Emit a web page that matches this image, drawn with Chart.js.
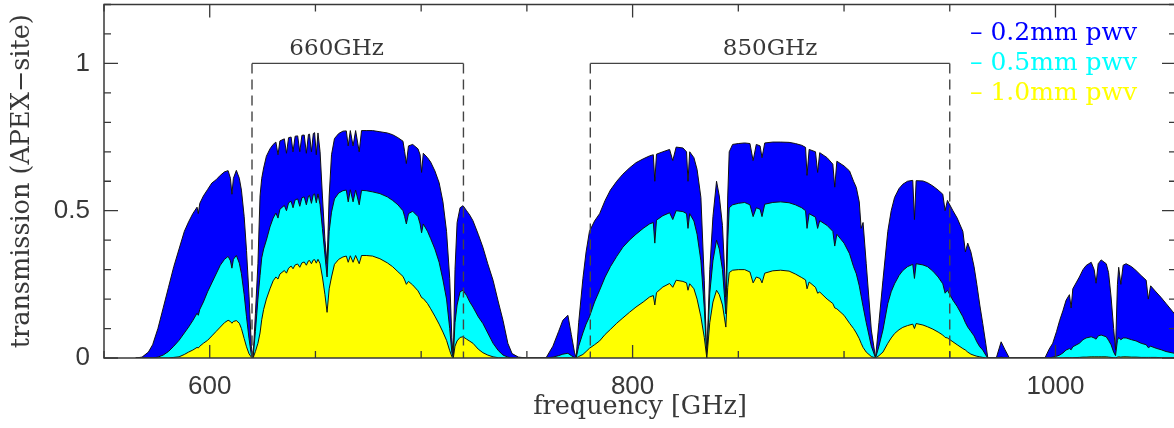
<!DOCTYPE html>
<html>
<head>
<meta charset="utf-8">
<title>APEX atmospheric transmission</title>
<script src="https://cdn.jsdelivr.net/npm/chart.js@4/dist/chart.umd.min.js"></script>
<style>
    html, body { margin: 0; padding: 0; background: #fff; overflow: hidden; }
    canvas { display: block; }
</style>
</head>
<body>
<canvas id="chartTransmission" width="1180" height="428"></canvas>
<script>
// frequency grid [GHz], one row per window chunk
const freqGHz = [
    565, 568, 571, 573, 575.5, 578, 580.5, 583, 585.5, 588, 590, 592, 594,
    594.6, 595.3, 597, 599, 601, 603, 605, 607, 608.7, 609.8, 610.5, 611.2, 612.6,
    614, 615, 616.3, 617.4, 618.6, 619.7, 620.5, 621.6, 622.8, 623.8, 624.6, 625.5, 626.8, 628.5, 630,
    631.3, 632.3, 633.2, 635.3, 636.3, 637.3, 638.5, 639.4, 640.4, 641.6, 642.6, 643.6, 644.7, 645.7, 646.7, 647.2, 648.1, 649, 649.6, 650.4, 651.2,
    652.2, 653.3, 654.5, 655.5, 656.5, 657.6, 659, 661, 663, 664.6, 665.5, 666.5, 667.8, 669, 670.7, 671.8, 674,
    677, 680.5, 684, 686.5, 689, 691.4, 692.2, 693, 694, 696, 698.5, 699.5, 700.2, 701, 703, 704.5, 706.5, 708.5, 710.3, 712, 713.5, 714.5, 715.2,
    716, 717, 718.4, 719.8, 721.5, 723, 724.5, 727, 729.2, 731.5, 734, 736.5, 738.7, 741, 743, 746, 750, 759,
    762.3, 765, 767, 769.4, 771, 772.5, 773.3, 774.5, 776.5, 778, 779.6, 782, 784.4, 787, 789.5, 792.5, 795.4, 798.5, 801.6, 805, 808,
    809.8, 810.5, 811.3, 814.3, 817.5, 819, 820.6, 823.8, 825.5, 826.2, 827, 829, 830.5, 832.3, 833.9, 835.1,
    836.5, 838, 839.7, 841, 842.5, 844.1, 845, 845.7, 847.3, 850, 853, 855.5, 857, 858.5, 860.3, 861.2, 862.5, 866.3,
    870, 874, 877, 880, 881.8, 882.5, 883.5, 886.5, 887.5, 888.5, 892, 894.7, 895.6, 896.6, 900, 902.6, 904.5, 905.8, 907.2, 908.1, 909, 910.5, 912.9, 914.9,
    916.5, 918.4, 920.7, 922.3, 923.9, 926, 927.8, 930, 932.5, 933.3, 934.1, 937.3, 939.5, 942, 944.5, 946.7, 947.8,
    948.9, 951.5, 953.5, 956.2, 957.4, 958.5, 960, 961.5, 962.8, 964.2, 965.6, 967, 968, 972, 974.3, 976, 978.2,
    995, 997, 998.7, 1000.5, 1002, 1003.5, 1005, 1006.6, 1007.4, 1008.2, 1011.3, 1013, 1014.5, 1016.9, 1018.3, 1019.2, 1020.2, 1021.6,
    1024, 1025.1, 1026.3, 1027.5, 1028.4, 1029.3, 1029.9, 1030.9, 1032, 1033.4, 1036, 1038.1, 1040.5, 1042.9, 1043.9, 1045, 1047.6, 1050, 1052.3, 1055.5, 1058,
];

// transmission at 0.2 mm pwv
const trans02 = [
    0, 0.003, 0.02, 0.045, 0.10, 0.17, 0.24, 0.31, 0.37, 0.43, 0.462, 0.49, 0.512,
    0.49, 0.525, 0.55, 0.572, 0.594, 0.605, 0.62, 0.632, 0.636, 0.61, 0.556, 0.61, 0.637,
    0.61, 0.57, 0.48, 0.365, 0.21, 0.04, 0, 0.15, 0.32, 0.55, 0.61, 0.645, 0.685, 0.71, 0.725,
    0.733, 0.69, 0.737, 0.744, 0.695, 0.748, 0.75, 0.70, 0.753, 0.754, 0.70, 0.756, 0.757, 0.695, 0.759, 0.76, 0.70, 0.762, 0.765, 0.69, 0.764,
    0.70, 0.55, 0.40, 0.32, 0.55, 0.69, 0.745, 0.762, 0.77, 0.771, 0.72, 0.772, 0.72, 0.772, 0.70, 0.772, 0.772,
    0.772, 0.768, 0.764, 0.758, 0.748, 0.736, 0.70, 0.66, 0.72, 0.725, 0.71, 0.69, 0.63, 0.695, 0.68, 0.665, 0.635, 0.595, 0.53, 0.43, 0.27, 0.07, 0,
    0.3, 0.46, 0.51, 0.517, 0.50, 0.485, 0.466, 0.42, 0.376, 0.32, 0.264, 0.19, 0.128, 0.05, 0.015, 0.003, 0, 0,
    0.04, 0.09, 0.128, 0.145, 0.08, 0.02, 0, 0.12, 0.27, 0.36, 0.43, 0.465, 0.49, 0.535, 0.57, 0.60, 0.624, 0.645, 0.663, 0.676, 0.686,
    0.69, 0.60, 0.692, 0.70, 0.708, 0.67, 0.716, 0.713, 0.70, 0.60, 0.70, 0.68, 0.64, 0.545, 0.264, 0,
    0.30, 0.48, 0.60, 0.55, 0.45, 0.207, 0.55, 0.70, 0.725, 0.728, 0.73, 0.728, 0.67, 0.725, 0.72, 0.68, 0.73, 0.733,
    0.733, 0.732, 0.728, 0.722, 0.715, 0.62, 0.708, 0.70, 0.63, 0.697, 0.68, 0.658, 0.58, 0.668, 0.652, 0.635, 0.60, 0.579, 0.53, 0.44, 0.46, 0.32, 0.095, 0,
    0.12, 0.264, 0.43, 0.50, 0.545, 0.575, 0.59, 0.60, 0.603, 0.47, 0.602, 0.601, 0.595, 0.584, 0.57, 0.556, 0.50,
    0.535, 0.50, 0.475, 0.43, 0.36, 0.39, 0.36, 0.31, 0.25, 0.18, 0.117, 0.05, 0, 0, 0.055, 0.03, 0,
    0, 0.03, 0.05, 0.09, 0.128, 0.16, 0.196, 0.215, 0.17, 0.235, 0.275, 0.30, 0.314, 0.325, 0.30, 0.254, 0.32, 0.333,
    0.32, 0.29, 0.207, 0.10, 0.027, 0.25, 0.308, 0.25, 0.315, 0.32, 0.31, 0.297, 0.28, 0.264, 0.20, 0.245, 0.224, 0.205, 0.185, 0.157, 0.135,
];

// transmission at 0.5 mm pwv
const trans05 = [
    0, 0, 0, 0, 0.003, 0.01, 0.022, 0.04, 0.06, 0.085, 0.105, 0.127, 0.152,
    0.145, 0.165, 0.19, 0.225, 0.255, 0.285, 0.315, 0.335, 0.345, 0.33, 0.305, 0.335, 0.348,
    0.322, 0.286, 0.215, 0.14, 0.065, 0.01, 0, 0.09, 0.2, 0.28, 0.34, 0.37, 0.40, 0.445, 0.475,
    0.492, 0.475, 0.505, 0.518, 0.50, 0.527, 0.532, 0.51, 0.537, 0.54, 0.515, 0.544, 0.547, 0.52, 0.55, 0.552, 0.525, 0.555, 0.557, 0.527, 0.557,
    0.52, 0.44, 0.35, 0.275, 0.43, 0.495, 0.54, 0.56, 0.568, 0.57, 0.53, 0.571, 0.53, 0.57, 0.52, 0.569, 0.568,
    0.564, 0.558, 0.547, 0.535, 0.52, 0.50, 0.48, 0.455, 0.49, 0.498, 0.48, 0.455, 0.425, 0.455, 0.43, 0.405, 0.37, 0.325, 0.265, 0.20, 0.10, 0.02, 0,
    0.12, 0.18, 0.225, 0.23, 0.212, 0.19, 0.173, 0.14, 0.117, 0.085, 0.05, 0.025, 0.01, 0.003, 0, 0, 0, 0,
    0.003, 0.008, 0.013, 0.016, 0.008, 0.002, 0, 0.04, 0.085, 0.115, 0.14, 0.19, 0.23, 0.275, 0.31, 0.345, 0.376, 0.40, 0.42, 0.44, 0.455,
    0.46, 0.39, 0.468, 0.483, 0.493, 0.47, 0.50, 0.497, 0.49, 0.44, 0.49, 0.465, 0.42, 0.33, 0.17, 0,
    0.22, 0.33, 0.40, 0.37, 0.30, 0.15, 0.40, 0.51, 0.52, 0.525, 0.528, 0.52, 0.48, 0.51, 0.505, 0.48, 0.522, 0.528,
    0.53, 0.527, 0.52, 0.51, 0.50, 0.44, 0.49, 0.478, 0.44, 0.466, 0.45, 0.43, 0.38, 0.42, 0.39, 0.354, 0.31, 0.286, 0.245, 0.21, 0.175, 0.12, 0.04, 0,
    0.04, 0.095, 0.185, 0.225, 0.252, 0.28, 0.297, 0.31, 0.318, 0.27, 0.32, 0.316, 0.31, 0.295, 0.275, 0.252, 0.22,
    0.23, 0.196, 0.175, 0.14, 0.12, 0.105, 0.09, 0.075, 0.055, 0.038, 0.027, 0.01, 0, 0, 0.003, 0.001, 0,
    0, 0, 0.003, 0.006, 0.01, 0.017, 0.027, 0.032, 0.028, 0.038, 0.05, 0.062, 0.068, 0.072, 0.068, 0.064, 0.075, 0.078,
    0.072, 0.06, 0.045, 0.02, 0.008, 0.06, 0.07, 0.062, 0.068, 0.068, 0.062, 0.058, 0.05, 0.045, 0.035, 0.04, 0.033, 0.028, 0.022, 0.017, 0.014,
];

// transmission at 1.0 mm pwv
const trans10 = [
    0, 0, 0, 0, 0, 0, 0, 0.002, 0.004, 0.012, 0.02, 0.027, 0.036,
    0.034, 0.04, 0.05, 0.06, 0.075, 0.09, 0.105, 0.12, 0.128, 0.124, 0.118, 0.124, 0.127,
    0.118, 0.10, 0.066, 0.038, 0.014, 0.003, 0, 0.022, 0.05, 0.085, 0.13, 0.165, 0.20, 0.235, 0.262,
    0.275, 0.268, 0.285, 0.297, 0.288, 0.305, 0.312, 0.303, 0.316, 0.319, 0.308, 0.323, 0.326, 0.315, 0.33, 0.331, 0.32, 0.333, 0.334, 0.322, 0.335,
    0.32, 0.275, 0.215, 0.155, 0.235, 0.275, 0.318, 0.335, 0.343, 0.346, 0.325, 0.347, 0.325, 0.348, 0.32, 0.348, 0.348,
    0.346, 0.337, 0.323, 0.31, 0.293, 0.277, 0.265, 0.25, 0.26, 0.248, 0.228, 0.215, 0.205, 0.202, 0.185, 0.167, 0.142, 0.115, 0.088, 0.06, 0.025, 0.005, 0,
    0.04, 0.058, 0.07, 0.072, 0.064, 0.057, 0.05, 0.03, 0.018, 0.01, 0.004, 0.001, 0, 0, 0, 0, 0, 0,
    0, 0, 0, 0.001, 0, 0, 0, 0.005, 0.012, 0.022, 0.033, 0.045, 0.058, 0.08, 0.097, 0.118, 0.136, 0.155, 0.173, 0.19, 0.207,
    0.212, 0.18, 0.222, 0.241, 0.253, 0.24, 0.264, 0.26, 0.255, 0.23, 0.252, 0.235, 0.20, 0.14, 0.07, 0,
    0.12, 0.19, 0.23, 0.215, 0.18, 0.105, 0.24, 0.29, 0.298, 0.30, 0.30, 0.292, 0.255, 0.275, 0.27, 0.255, 0.288, 0.296,
    0.298, 0.295, 0.285, 0.273, 0.265, 0.235, 0.258, 0.24, 0.22, 0.224, 0.2, 0.185, 0.17, 0.167, 0.145, 0.118, 0.1, 0.085, 0.066, 0.05, 0.036, 0.02, 0.005, 0,
    0.008, 0.02, 0.05, 0.068, 0.083, 0.096, 0.104, 0.11, 0.115, 0.1, 0.117, 0.112, 0.106, 0.098, 0.088, 0.078, 0.07,
    0.068, 0.055, 0.045, 0.032, 0.027, 0.02, 0.013, 0.009, 0.006, 0.004, 0.002, 0, 0, 0, 0, 0, 0,
    0, 0, 0, 0, 0, 0, 0.001, 0.001, 0.001, 0.001, 0.002, 0.003, 0.003, 0.004, 0.004, 0.004, 0.004, 0.004,
    0.004, 0.003, 0.002, 0.001, 0, 0.003, 0.004, 0.003, 0.004, 0.004, 0.003, 0.003, 0.002, 0.002, 0.002, 0.002, 0.002, 0.001, 0.001, 0.001, 0.001,
];

const pwvLabels = ["0.2mm pwv", "0.5mm pwv", "1.0mm pwv"];
const pwvColors = ["#0000ff", "#00ffff", "#ffff00"];

// receiver bands: name, edges [GHz], where the name sits
const bandNames = ["660GHz", "850GHz"];
const bandEdges = [[620, 720], [780, 950]];
const bandNameAt = [660, 865];

const serif = "'DejaVu Serif', 'Liberation Serif', serif";
const sans = "'Liberation Sans', Arial, sans-serif";
const ink = "#383838";

const toPoints = (vals) => freqGHz.map((f, i) => ({ x: f, y: vals[i] }));

// keep the plot box fixed: no extra room for edge tick labels
const noEdgePadding = (scale) => {
    scale.paddingLeft = 0;
    scale.paddingRight = 0;
    scale.paddingTop = 0;
    scale.paddingBottom = 0;
};

// frame, inward ticks, band brackets and the pwv key
const framePlugin = {
    id: "frame",
    afterDatasetsDraw(chart) {
        const { ctx, chartArea: a, scales: { x, y } } = chart;
        ctx.save();

        // band brackets
        const yTop = y.getPixelForValue(1);
        const yBot = y.getPixelForValue(0);
        ctx.strokeStyle = "#444";
        ctx.lineWidth = 1.4;
        bandEdges.forEach(([f0, f1], i) => {
            const x0 = x.getPixelForValue(f0);
            const x1 = x.getPixelForValue(f1);
            ctx.setLineDash([]);
            ctx.beginPath();
            ctx.moveTo(x0, yTop);
            ctx.lineTo(x1, yTop);
            ctx.stroke();
            ctx.setLineDash([10, 6]);
            ctx.beginPath();
            ctx.moveTo(x0, yTop);
            ctx.lineTo(x0, yBot);
            ctx.moveTo(x1, yTop);
            ctx.lineTo(x1, yBot);
            ctx.stroke();

            ctx.font = `23px ${serif}`;
            ctx.fillStyle = ink;
            ctx.textAlign = "center";
            ctx.textBaseline = "alphabetic";
            ctx.fillText(bandNames[i], x.getPixelForValue(bandNameAt[i]), yTop - 8);
        });
        ctx.setLineDash([]);

        // frame
        ctx.strokeStyle = ink;
        ctx.lineWidth = 1.5;
        ctx.strokeRect(a.left, a.top, a.right - a.left, a.bottom - a.top);

        // ticks point inward on all four sides
        ctx.lineWidth = 1.3;
        ctx.beginPath();
        x.ticks.forEach((t) => {
            if (t.value % 50 !== 0) return;
            const px = x.getPixelForValue(t.value);
            const len = t.value % 200 === 0 ? 13 : 7;
            ctx.moveTo(px, a.bottom);
            ctx.lineTo(px, a.bottom - len);
            ctx.moveTo(px, a.top);
            ctx.lineTo(px, a.top + len);
        });
        y.ticks.forEach((t) => {
            const py = y.getPixelForValue(t.value);
            const major = Math.abs(t.value * 2 - Math.round(t.value * 2)) < 1e-6;
            const len = major ? 14 : 7;
            ctx.moveTo(a.left, py);
            ctx.lineTo(a.left + len, py);
            ctx.moveTo(a.right, py);
            ctx.lineTo(a.right - len, py);
        });
        ctx.stroke();

        // pwv key, top right
        ctx.font = `25px ${serif}`;
        ctx.textAlign = "left";
        ctx.textBaseline = "middle";
        chart.data.datasets.forEach((ds, i) => {
            ctx.fillStyle = pwvColors[i];
            ctx.fillText("– " + ds.label, 970, 33 + i * 30);
        });

        ctx.restore();
    },
};

const datasets = [trans02, trans05, trans10].map((vals, i) => ({
    label: pwvLabels[i],
    data: toPoints(vals),
    borderColor: "#111",
    borderWidth: 1,
    backgroundColor: pwvColors[i],
    fill: "origin",
    pointRadius: 0,
    tension: 0,
    order: 3 - i, // wettest on top
}));

new Chart(document.getElementById("chartTransmission"), {
    type: "line",
    data: { datasets },
    options: {
        responsive: false,
        animation: false,
        devicePixelRatio: 1,
        layout: { padding: { top: 4.5, right: 4, left: 0, bottom: 0 } },
        plugins: {
            legend: { display: false },
            tooltip: { enabled: false },
        },
        scales: {
            x: {
                type: "linear",
                min: 550,
                max: 1057,
                afterFit: (scale) => {
                    scale.height = 70;
                    noEdgePadding(scale);
                },
                grid: { display: false, drawTicks: false },
                border: { display: false },
                ticks: {
                    stepSize: 50,
                    autoSkip: false,
                    maxRotation: 0,
                    padding: 13,
                    color: ink,
                    font: { family: sans, size: 26 },
                    callback: (v) => (v % 200 === 0 ? String(v) : ""),
                },
                title: {
                    display: true,
                    text: "frequency [GHz]",
                    color: ink,
                    font: { family: serif, size: 25.5 },
                    padding: { top: 0, bottom: 5 },
                },
            },
            y: {
                min: 0,
                max: 1.2,
                afterFit: (scale) => {
                    scale.width = 104;
                    noEdgePadding(scale);
                },
                grid: { display: false, drawTicks: false },
                border: { display: false },
                ticks: {
                    stepSize: 0.1,
                    autoSkip: false,
                    padding: 14,
                    color: ink,
                    font: { family: sans, size: 26 },
                    callback: (v) => {
                        if (Math.abs(v * 2 - Math.round(v * 2)) > 1e-6) return "";
                        return v === 0 ? "0" : String(+v.toFixed(1));
                    },
                },
                title: {
                    display: true,
                    text: "transmission (APEX−site)",
                    color: ink,
                    font: { family: serif, size: 25.5 },
                    padding: { top: 7, bottom: 0 },
                },
            },
        },
    },
    plugins: [framePlugin],
});
</script>
</body>
</html>
